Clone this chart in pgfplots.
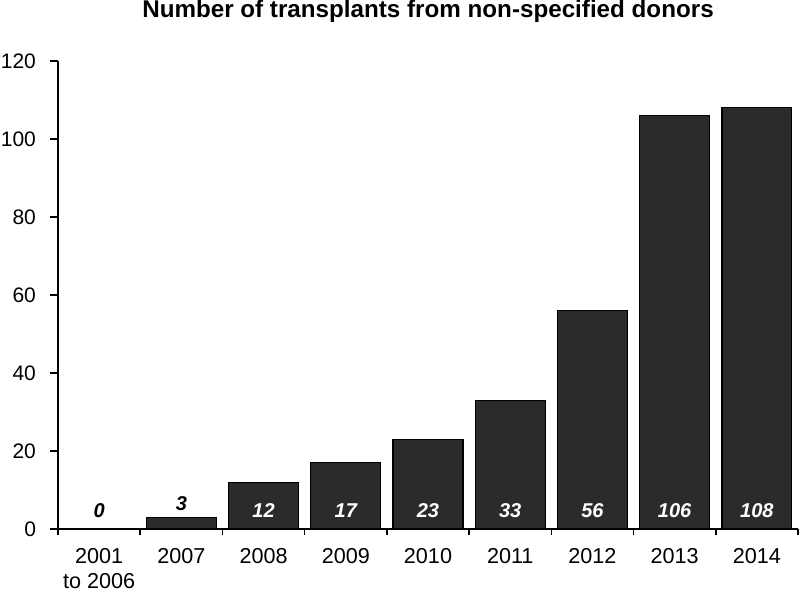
\documentclass[border=0pt]{standalone}
\usepackage{pgfplots}
\pgfplotsset{compat=1.18}
\usetikzlibrary{calc}
\usepackage{fontspec}
\setmainfont{Liberation Sans}
\begin{document}
\begin{tikzpicture}
\begin{axis}[
    name=ax,
    scale only axis,
    width=370pt, height=234pt,
    xmin=-0.5, xmax=8.5,
    ymin=0, ymax=120,
    axis x line*=bottom, axis y line*=left,
    axis line style={line width=0.8pt},
    ytick={0,20,...,120},
    xtick={0,...,8},
    xticklabels={{2001\\to 2006},2007,2008,2009,2010,2011,2012,2013,2014},
    major x tick style={draw=none},
    minor xtick={-0.5,0.5,...,8.5},
    tick style={line width=0.8pt, black},
    tick align=outside,
    major tick length=4pt, minor tick length=3pt,
    xticklabel style={align=center, inner sep=1pt,
        font=\fontsize{10.8}{12.3}\selectfont, yshift=-4.5pt},
    yticklabel style={font=\fontsize{10.5}{13}\selectfont, xshift=-3.5pt},
    /pgf/number format/assume math mode=true,
    title={\bfseries Number of transplants from non-specified donors},
    title style={font=\fontsize{12.1}{14}\selectfont, yshift=9.5pt},
    clip=false,
]
\addplot[ybar, bar width=0.85, fill=black!83, draw=black, line width=0.6pt]
    coordinates {(0,0) (1,3) (2,12) (3,17) (4,23) (5,33) (6,56) (7,106) (8,108)};
% value labels, black above the small bars
\addplot[draw=none, nodes near coords, point meta=explicit symbolic,
    every node near coord/.append style={anchor=center, text=black,
        font=\fontsize{10}{12}\selectfont\bfseries\itshape}]
    coordinates {(0,4.8)[0] (1,6.4)[3]};
% value labels, white inside the bars
\addplot[draw=none, nodes near coords, point meta=explicit symbolic,
    every node near coord/.append style={anchor=center, text=white,
        font=\fontsize{10}{12}\selectfont\bfseries\itshape}]
    coordinates {(2,4.8)[12] (3,4.8)[17] (4,4.8)[23] (5,4.8)[33] (6,4.8)[56] (7,4.8)[106] (8,4.8)[108]};
\end{axis}
\pgfresetboundingbox
\path ($(ax.south west)+(-29pt,-32pt)$) rectangle ($(ax.north east)+(1pt,30.5pt)$);
\end{tikzpicture}
\end{document}
